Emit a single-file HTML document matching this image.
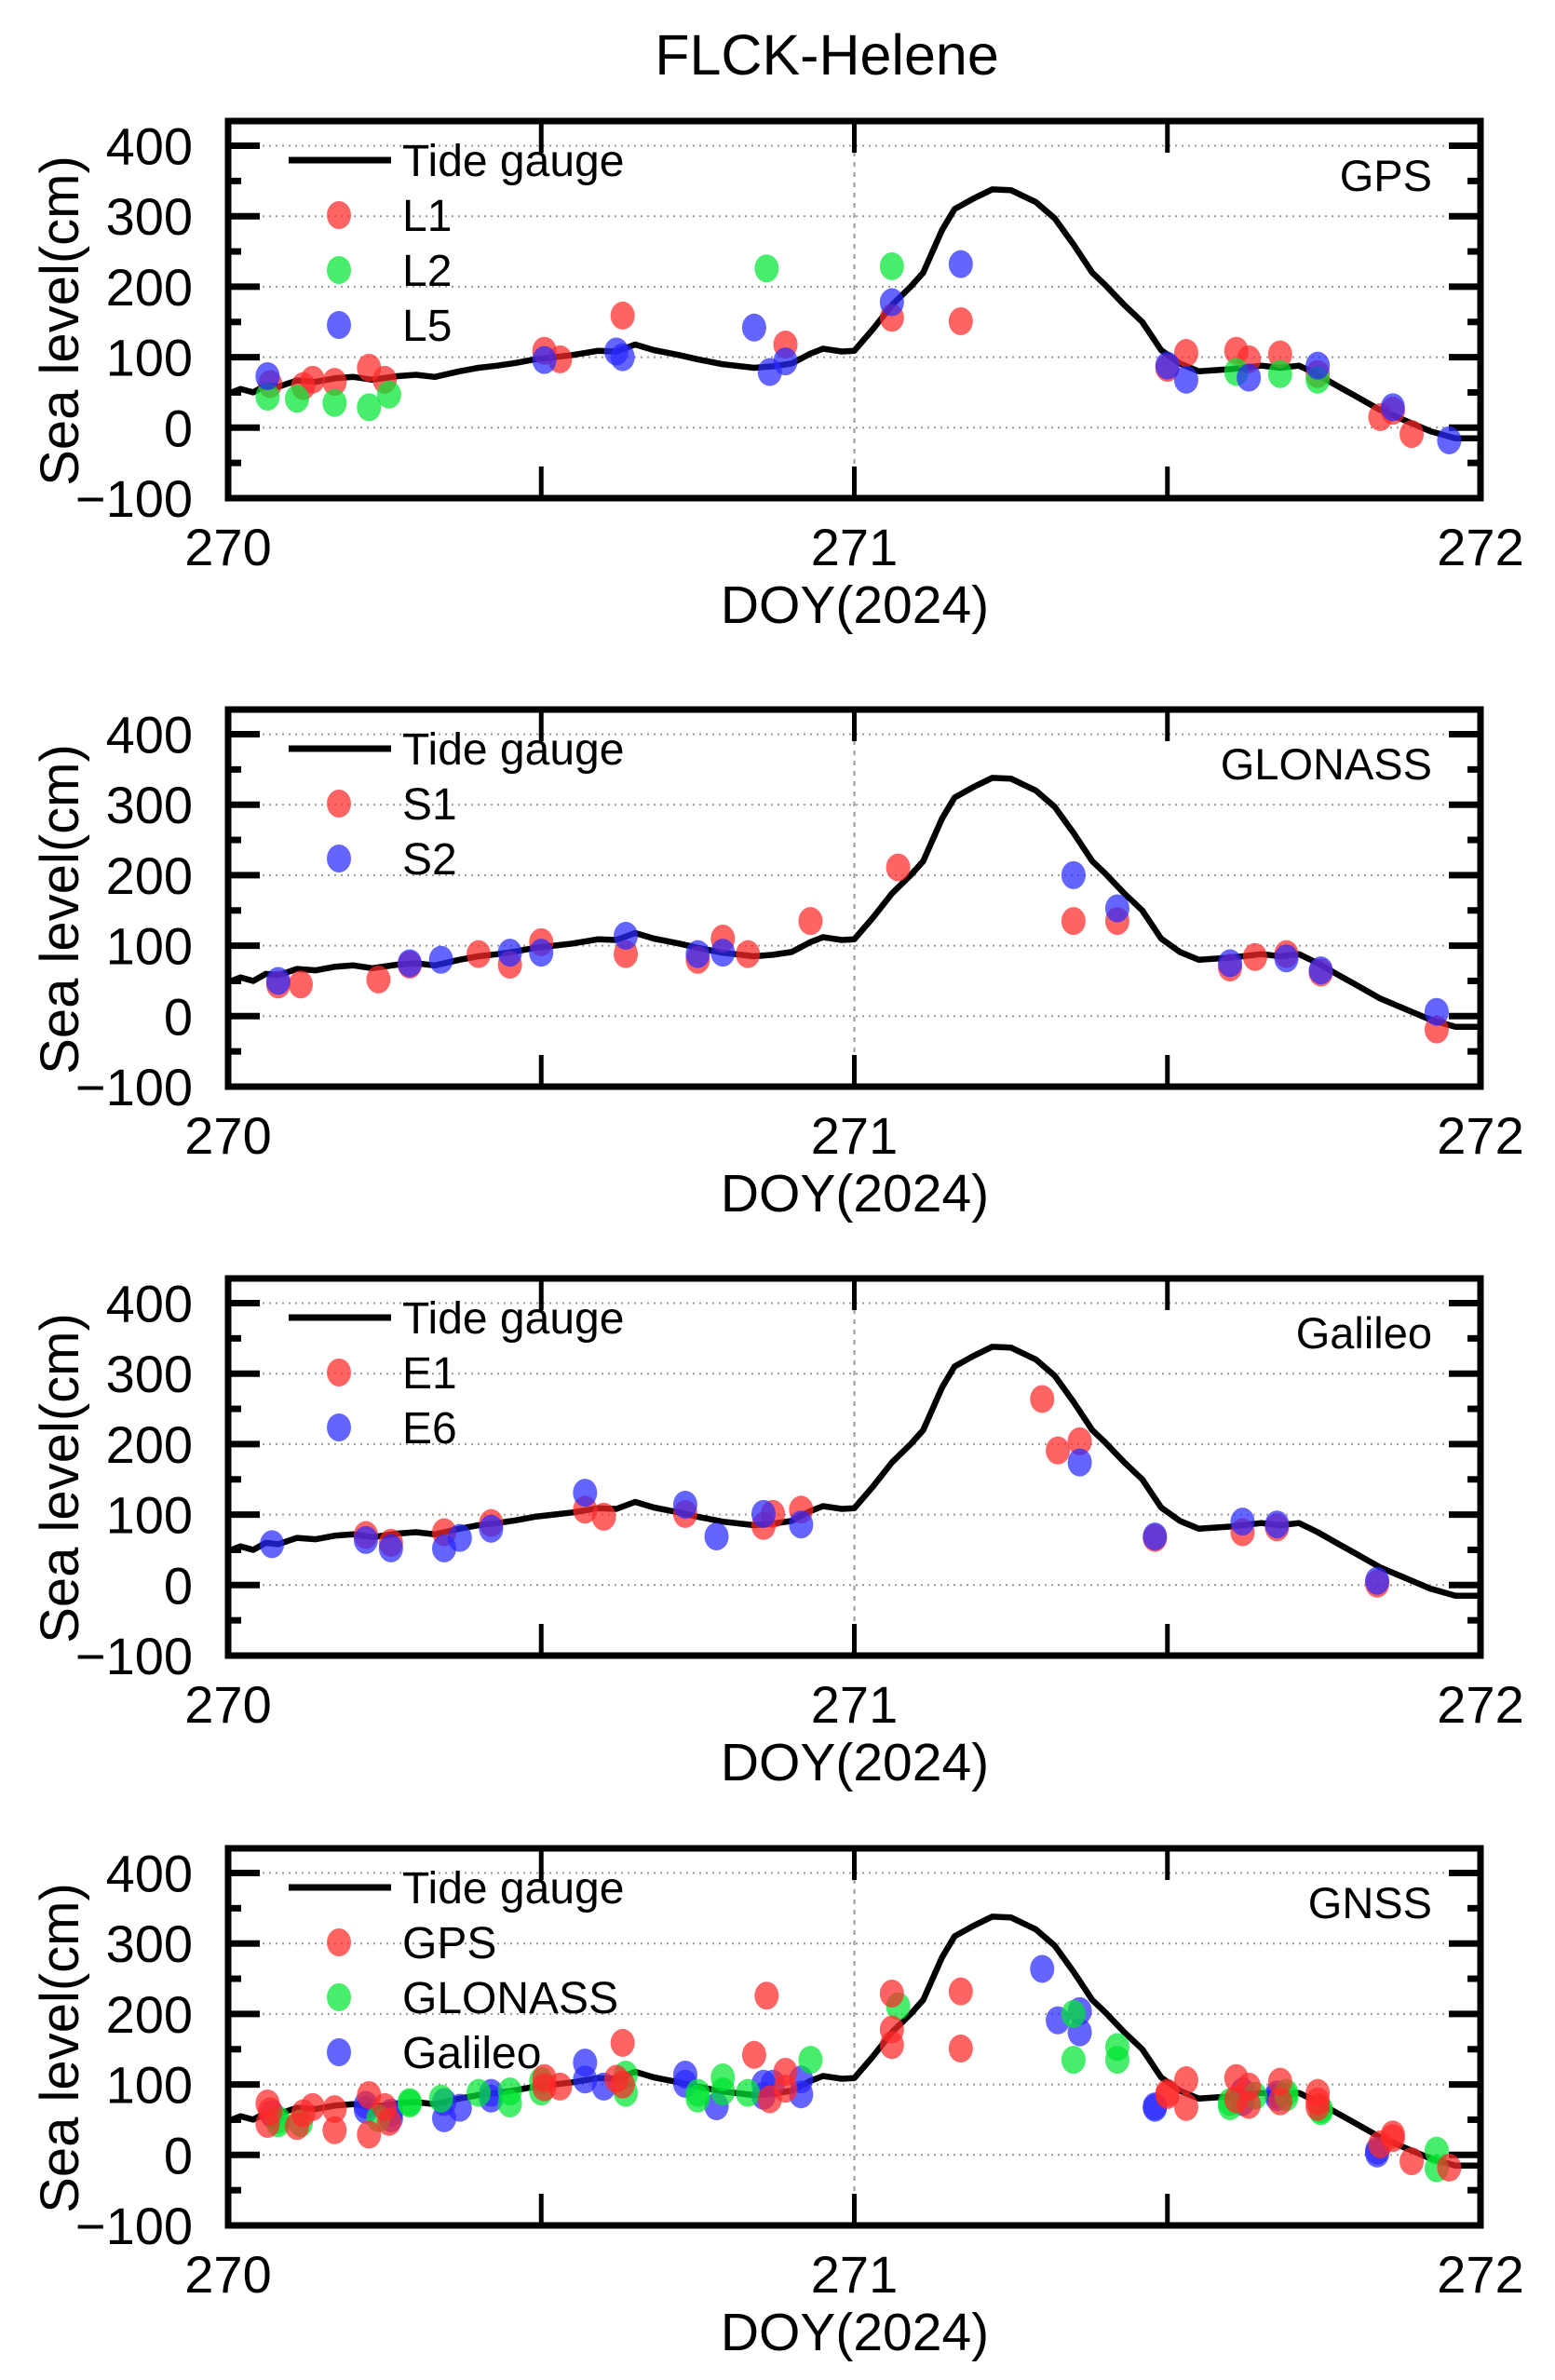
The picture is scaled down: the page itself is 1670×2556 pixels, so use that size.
<!DOCTYPE html>
<html><head><meta charset="utf-8"><style>
html,body{margin:0;padding:0;background:#fff;}
svg text{font-family:"Liberation Sans",sans-serif;fill:#000;}
</style></head><body>
<svg id="fig" width="1670" height="2551" viewBox="0 0 1670 2551" xmlns="http://www.w3.org/2000/svg">
<text x="888" y="80" font-size="61" text-anchor="middle">FLCK-Helene</text>
</svg>
<script>
const tideX=[270,270.02,270.04,270.06,270.08,270.11,270.14,270.17,270.2,270.23,270.27,270.3,270.33,270.37,270.4,270.43,270.46,270.49,270.52,270.55,270.59,270.62,270.65,270.68,270.72,270.75,270.79,270.84,270.87,270.9,270.93,270.95,270.98,271,271.03,271.06,271.09,271.11,271.14,271.16,271.19,271.22,271.25,271.29,271.32,271.35,271.38,271.4,271.43,271.46,271.49,271.52,271.55,271.6,271.65,271.68,271.71,271.74,271.77,271.8,271.84,271.88,271.92,271.96,272];
const tideY=[48,55,50,60,58,67,65,70,72,68,73,75,72,80,85,88,92,97,100,103,109,108,118,110,103,97,90,85,87,91,105,112,108,109,140,174,200,220,280,310,325,338,337,320,297,260,220,203,175,150,110,91,80,83,88,85,88,75,60,45,25,10,-5,-15,-15];

const gpsL1X=[270.067,270.12,270.135,270.17,270.225,270.25,270.505,270.53,270.63,270.89,271.06,271.17,271.5,271.53,271.61,271.63,271.68,271.74,271.84,271.86,271.89];
const gpsL1Y=[62,59,68,65,85,68,109,97,159,118,156,151,85,106,109,97,104,76,15,24,-9];
const gpsL2X=[270.063,270.11,270.17,270.225,270.257,270.86,271.06,271.61,271.68,271.74];
const gpsL2Y=[44,41,35,29,47,226,229,79,76,68];
const gpsL5X=[270.063,270.505,270.62,270.63,270.84,270.865,270.89,271.06,271.17,271.5,271.53,271.63,271.74,271.86,271.95];
const gpsL5Y=[73,96,108,100,142,79,94,178,232,88,68,71,88,29,-18];

const gloS1X=[270.08,270.116,270.24,270.29,270.4,270.45,270.5,270.635,270.75,270.79,270.83,270.93,271.07,271.35,271.42,271.6,271.64,271.69,271.745,271.93];
const gloS1Y=[45,45,52,73,88,73,105,88,80,110,88,135,211,135,135,69,84,88,62,-19];
const gloS2X=[270.08,270.29,270.34,270.45,270.5,270.635,270.75,270.79,271.35,271.42,271.6,271.69,271.745,271.93];
const gloS2Y=[50,75,80,90,90,114,88,90,200,153,75,82,65,6];

const galE1X=[270.22,270.26,270.345,270.42,270.57,270.6,270.73,270.855,270.87,270.915,271.3,271.325,271.36,271.48,271.62,271.675,271.835];
const galE1Y=[71,60,75,88,107,97,101,84,101,107,264,191,204,67,75,82,2];
const galE6X=[270.07,270.22,270.26,270.345,270.37,270.42,270.57,270.73,270.78,270.855,270.915,271.36,271.48,271.62,271.675,271.835];
const galE6Y=[58,64,52,52,67,80,131,114,69,101,86,174,69,90,86,6];

const yTicks=[400,300,200,100,0,-100];
const xTicks=[270,271,272];

const RED='rgba(255,40,40,0.72)',GREEN='rgba(0,230,50,0.72)',BLUE='rgba(40,40,255,0.72)';
const NS='http://www.w3.org/2000/svg';
const svg=document.getElementById('fig');
function el(tag,attrs,parent){const e=document.createElementNS(NS,tag);for(const k in attrs)e.setAttribute(k,attrs[k]);(parent||svg).appendChild(e);return e;}

const L=245,R=1590,H=405;
function panel(top,label,series,pname){
  const g=el('g',{});
  
  
  const bottom=top+H;
  const xs=v=>L+(v-270)/2*(R-L);
  const ys=v=>bottom-(v+100)*0.757;
  for(const t of [0,100,200,300,400]){
    const gl=el('line',{x1:L+30,x2:R-30,y1:ys(t),y2:ys(t),stroke:'#999','stroke-width':2,'stroke-dasharray':'2 5'},g);
    
    
  }
  const vl=el('line',{x1:xs(271),x2:xs(271),y1:top,y2:bottom,stroke:'#999','stroke-width':2,'stroke-dasharray':'5 6'},g);
  
  
  for(let v=-100;v<=400;v+=50){
    const len=(v%100===0)?34:14;
    el('line',{x1:L,x2:L+len,y1:ys(v),y2:ys(v),stroke:'#000','stroke-width':7},g);
    el('line',{x1:R-len,x2:R,y1:ys(v),y2:ys(v),stroke:'#000','stroke-width':7},g);
  }
  for(const v of [270.5,271,271.5]){
    el('line',{x1:xs(v),x2:xs(v),y1:top,y2:top+34,stroke:'#000','stroke-width':5},g);
    el('line',{x1:xs(v),x2:xs(v),y1:bottom-34,y2:bottom,stroke:'#000','stroke-width':5},g);
  }
  let d='';
  for(let i=0;i<tideX.length;i++){d+=(i?'L':'M')+xs(tideX[i]).toFixed(1)+' '+ys(tideY[i]).toFixed(1);}
  const tl=el('path',{d:d,fill:'none',stroke:'#000','stroke-width':6.5,'stroke-linejoin':'round'},g);
  
  
  for(const s of series){
    for(let i=0;i<s.x.length;i++){
      const c=el('ellipse',{cx:xs(s.x[i]),cy:ys(s.y[i]),rx:13,ry:15,fill:s.color},g);
      
      
    }
  }
  const fr=el('rect',{x:L,y:top,width:R-L,height:H,fill:'none',stroke:'#000','stroke-width':7},g);
  
  
  for(const t of yTicks){
    const tx=el('text',{x:L-38,y:ys(t)+20,'font-size':56,'text-anchor':'end'},g);
    tx.textContent=t<0?'\u2212'+Math.abs(t):String(t);
    
    
  }
  for(const t of xTicks){
    const tx=el('text',{x:xs(t),y:bottom+72,'font-size':56,'text-anchor':'middle'},g);
    tx.textContent=String(t);
    
    
  }
  const xt=el('text',{x:918,y:bottom+134,'font-size':57,'text-anchor':'middle'},g);
  xt.textContent='DOY(2024)';
  
  
  const yt=el('text',{x:0,y:0,'font-size':58,'text-anchor':'middle',transform:'translate(84,'+(top+H/2+12)+') rotate(-90)'},g);
  yt.textContent='Sea level(cm)';
  
  
  const pl=el('text',{x:R-52,y:top+75,'font-size':47,'text-anchor':'end'},g);
  pl.textContent=label;
  
  
  const lg=el('g',{},g);
  
  
  el('line',{x1:310,x2:420,y1:top+42,y2:top+42,stroke:'#000','stroke-width':7},lg);
  const lt=el('text',{x:432,y:top+59,'font-size':48},lg);
  lt.textContent='Tide gauge';
  
  
  series.filter(s=>s.legend).forEach((s,k)=>{
    const cy=top+101+k*59;
    el('ellipse',{cx:364,cy:cy,rx:13,ry:15,fill:s.color},lg);
    const t=el('text',{x:432,y:cy+17,'font-size':48},lg);
    t.textContent=s.legend;
    
    
  });
}
panel(130,'GPS',[
  {x:gpsL1X,y:gpsL1Y,color:RED,name:'l1',legend:'L1'},
  {x:gpsL2X,y:gpsL2Y,color:GREEN,name:'l2',legend:'L2'},
  {x:gpsL5X,y:gpsL5Y,color:BLUE,name:'l5',legend:'L5'}],'gps-panel');
panel(762,'GLONASS',[
  {x:gloS1X,y:gloS1Y,color:RED,name:'s1',legend:'S1'},
  {x:gloS2X,y:gloS2Y,color:BLUE,name:'s2',legend:'S2'}],'glonass-panel');
panel(1373,'Galileo',[
  {x:galE1X,y:galE1Y,color:RED,name:'e1',legend:'E1'},
  {x:galE6X,y:galE6Y,color:BLUE,name:'e6',legend:'E6'}],'galileo-panel');
panel(1985,'GNSS',[
  {x:galE1X.concat(galE6X),y:galE1Y.concat(galE6Y),color:BLUE,name:'galileo',legend:null},
  {x:gloS1X.concat(gloS2X),y:gloS1Y.concat(gloS2Y),color:GREEN,name:'glonass',legend:null},
  {x:gpsL1X.concat(gpsL2X,gpsL5X),y:gpsL1Y.concat(gpsL2Y,gpsL5Y),color:RED,name:'gps',legend:null},
  {x:[],y:[],color:RED,name:'gps-legend',legend:'GPS'},
  {x:[],y:[],color:GREEN,name:'glonass-legend',legend:'GLONASS'},
  {x:[],y:[],color:BLUE,name:'galileo-legend',legend:'Galileo'}],'gnss-panel');
</script>
</body></html>
